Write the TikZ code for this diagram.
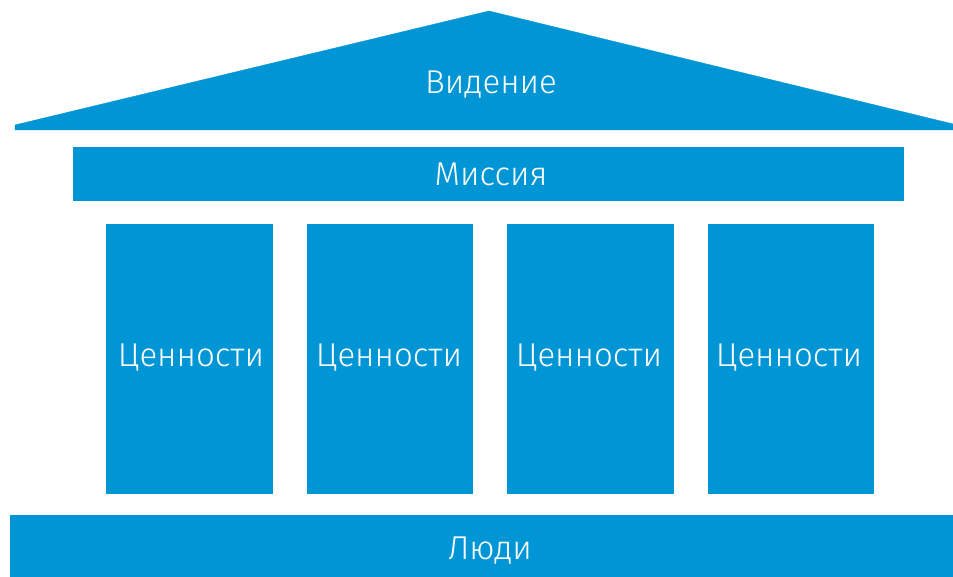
\documentclass[tikz,border=0pt]{standalone}
\usepackage{fontspec}
\setmainfont{Fira Sans Light}
\definecolor{templeblue}{RGB}{0,150,214}
\tikzset{>=latex}

\begin{document}
\begin{tikzpicture}[x=1pt, y=-1pt]
    \useasboundingbox (0,0) rectangle (953,577);
    \tikzset{label/.style={text=white, font=\fontsize{33}{38}\selectfont}}

    \draw[templeblue, fill] (15,125) -- (489,11) -- (953,124) -- (953,130) -- (15,130) -- cycle;
    \node[label] (vision) at (491,85) {Видение};

    \draw[templeblue, fill] (73,147) rectangle (903,200);
    \node[label] (mission) at (491,174) {Миссия};

    \draw[templeblue, fill] (106,224) rectangle (272,493);
    \node[label] (value1) at (191,358) {Ценности};
    \draw[templeblue, fill] (307,224) rectangle (472,493);
    \node[label] (value2) at (389,358) {Ценности};
    \draw[templeblue, fill] (507,224) rectangle (673,493);
    \node[label] (value3) at (589,358) {Ценности};
    \draw[templeblue, fill] (708,224) rectangle (873,493);
    \node[label] (value4) at (789,358) {Ценности};

    \draw[templeblue, fill] (10,515) rectangle (953,577);
    \node[label] (people) at (490,551) {Люди};

\end{tikzpicture}
\end{document}
